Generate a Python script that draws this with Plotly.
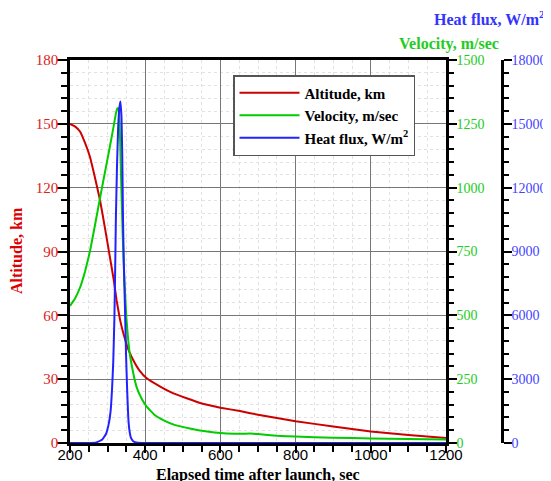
import plotly.graph_objects as go

# ---- data ----
alt_t = [200, 213, 227, 240, 253, 266, 280, 293, 306, 316, 324, 333, 342, 355, 368, 385, 404,
         440, 475, 546, 600, 652, 700, 800, 900, 1000, 1100, 1200]
alt_km = [150, 148.8, 146.3, 141, 134.5, 125, 114, 101, 87.5, 77, 67, 58, 51.5, 44, 39, 34, 30.4,
          26.5, 23.3, 18.8, 16.6, 15, 13.3, 10.2, 7.8, 5.4, 3.8, 2.4]

vel_t = [200, 213, 227, 240, 253, 266, 278, 289, 306, 316, 322, 326, 329, 332, 336, 340, 345, 350,
         355, 360, 368, 377, 390, 404, 425, 448, 480, 519, 560, 608, 650, 680, 700, 750, 800,
         900, 1000, 1100, 1200]
vel_ms = [537, 565, 610, 672, 750, 850, 945, 1030, 1160, 1240, 1290, 1310, 1312, 1250, 1030, 820, 630, 490,
          400, 338, 275, 220, 175, 142, 110, 90, 70, 57, 46, 38, 36, 37, 35, 28, 25,
          21, 18, 16, 14]

hf_t = [200, 250, 270, 285, 295, 303, 308, 312, 315, 318, 320, 322, 325, 328, 331, 334, 337, 339,
        341, 343, 346, 349, 352, 355, 358, 362, 368, 380, 400, 1200]
hf_w = [0, 0, 30, 150, 400, 900, 1500, 2600, 3800, 5800, 8000, 10500, 13000, 14800, 15700, 16050,
        15300, 13500, 10500, 8500, 6500, 4200, 2500, 1200, 600, 250, 80, 10, 0, 0]

names = ["Altitude, km", "Velocity, m/sec", "Heat flux, W/m<sup>2</sup>"]

SERIF = "Liberation Serif"
SANS = "Liberation Sans"

fig = go.Figure()
fig.add_trace(go.Scatter(x=alt_t, y=alt_km, mode="lines", name=names[0],
                         line=dict(color="#cc0000", width=2, shape="spline", smoothing=0.3), yaxis="y"))
fig.add_trace(go.Scatter(x=vel_t, y=vel_ms, mode="lines", name=names[1],
                         line=dict(color="#00cc00", width=2, shape="spline", smoothing=0.3), yaxis="y2"))
fig.add_trace(go.Scatter(x=hf_t, y=hf_w, mode="lines", name=names[2],
                         line=dict(color="#2222ff", width=2, shape="spline", smoothing=0.3), yaxis="y3"))

# page has an 8px body margin: work in page pixel coordinates
OFF = 8
PAGE_W, PAGE_H = 551, 481
W, H = PAGE_W - OFF, PAGE_H - OFF
X_LEFT, X_RIGHT_FIG, Y_TOP, Y_BOT = 70, 541, 60, 443
L = X_LEFT - OFF
R = PAGE_W - X_RIGHT_FIG
T = Y_TOP - OFF
B = PAGE_H - Y_BOT
pw = W - L - R
ph = H - T - B
def px(x):
    return (x - X_LEFT) / pw
def py(y):
    return (Y_BOT - y) / ph

xdom_end = px(446)
MINOR_GRID = "#e2e2e2"

fig.update_layout(
    width=W, height=H,
    margin=dict(l=L, r=R, t=T, b=B, pad=0, autoexpand=False),
    plot_bgcolor="white", paper_bgcolor="white",
    showlegend=True,
    legend=dict(x=px(233), y=py(75), xanchor="left", yanchor="top",
                bgcolor="white", bordercolor="#555555", borderwidth=1.5,
                font=dict(family=SERIF, size=15, color="black", weight=700),
                itemwidth=60, tracegroupgap=0),
    xaxis=dict(domain=[0, xdom_end], range=[200, 1200], tick0=200, dtick=200, automargin=False,
               ticks="outside", ticklen=7, tickwidth=2, tickcolor="black", ticklabelstandoff=-11,
               showline=True, linewidth=2.5, linecolor="black", mirror=True,
               showgrid=True, gridcolor="#777777", gridwidth=1.2, zeroline=False,
               tickfont=dict(family=SANS, size=15, color="black"),
               minor=dict(dtick=50, tick0=200, ticks="outside", ticklen=6, tickwidth=1.5, tickcolor="black",
                          showgrid=True, griddash="dot", gridcolor=MINOR_GRID, gridwidth=1)),
    yaxis=dict(range=[0, 180], tick0=0, dtick=30, automargin=False,
               ticks="outside", ticklen=10, tickwidth=2, tickcolor="black", ticklabelstandoff=-4,
               showline=True, linewidth=2.5, linecolor="black", mirror=True,
               showgrid=True, gridcolor="#777777", gridwidth=1.2, zeroline=False,
               tickfont=dict(family=SERIF, size=15, color="#dd2222"),
               minor=dict(dtick=6, tick0=0, ticks="outside", ticklen=6, tickwidth=1.5, tickcolor="black",
                          showgrid=True, griddash="dot", gridcolor=MINOR_GRID, gridwidth=1)),
    yaxis2=dict(overlaying="y", side="right", anchor="x", range=[0, 1500], tick0=0, dtick=250,
                automargin=False,
                ticks="outside", ticklen=8, tickwidth=2, tickcolor="black", ticklabelstandoff=-3,
                showline=True, linewidth=2.5, linecolor="black",
                showgrid=False, zeroline=False,
                tickfont=dict(family=SERIF, size=14, color="#22cc22"),
                minor=dict(dtick=50, tick0=0, ticks="outside", ticklen=5, tickwidth=1.5, tickcolor="black")),
    yaxis3=dict(overlaying="y", side="right", anchor="free", position=px(502), automargin=False,
                range=[0, 18000], tick0=0, dtick=3000, tickformat="d",
                ticks="outside", ticklen=8, tickwidth=2, tickcolor="black", ticklabelstandoff=-3,
                showline=True, linewidth=2.5, linecolor="black",
                showgrid=False, zeroline=False,
                tickfont=dict(family=SERIF, size=14, color="#4444ff"),
                minor=dict(dtick=600, tick0=0, ticks="outside", ticklen=5, tickwidth=1.5, tickcolor="black")),
)

ann = [
    dict(text="<b>Heat flux, W/m<sup>2</sup></b>", x=px(546), y=py(18), xanchor="right", yanchor="middle",
         font=dict(family=SERIF, size=16, color="#3333ff")),
    dict(text="<b>Velocity, m/sec</b>", x=px(500), y=py(44), xanchor="right", yanchor="middle",
         font=dict(family=SERIF, size=16, color="#22cc22")),
    dict(text="<b>Altitude, km</b>", x=px(16), y=py(251), xanchor="center", yanchor="middle", textangle=-90,
         font=dict(family=SERIF, size=16, color="#dd0000")),
    dict(text="<b>Elapsed time after launch, sec</b>", x=px(258), y=py(475), xanchor="center", yanchor="middle",
         font=dict(family=SERIF, size=16, color="black")),
]
for a in ann:
    a.update(xref="paper", yref="paper", showarrow=False, borderpad=0)
fig.update_layout(annotations=ann)

fig.write_html("out.html")
